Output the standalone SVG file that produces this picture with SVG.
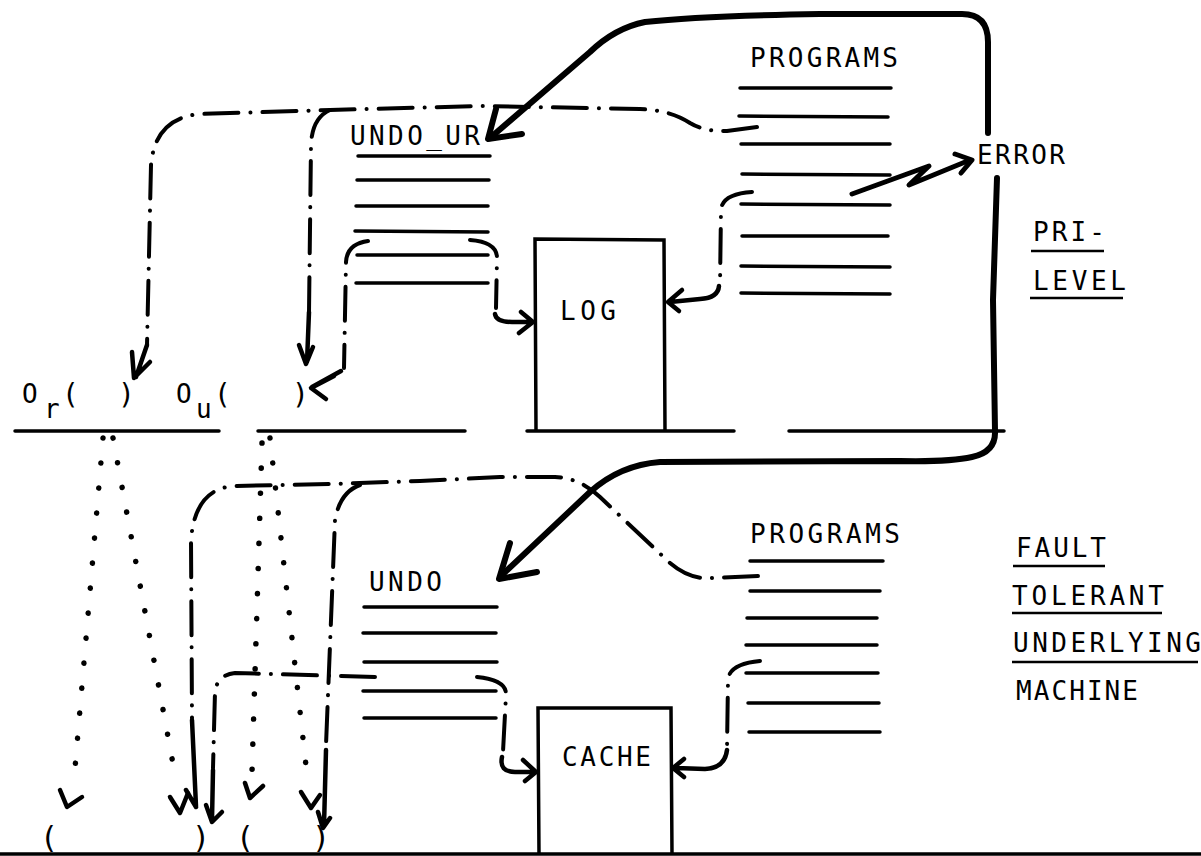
<svg xmlns="http://www.w3.org/2000/svg" width="1201" height="856" viewBox="0 0 1201 856">
<style>
.t{font-family:"DejaVu Sans Mono","Liberation Mono",monospace;font-size:26px;fill:#000}
.ln{stroke:#000;stroke-width:3.5;fill:none;stroke-linecap:round}
.thk{stroke:#000;stroke-width:6;fill:none;stroke-linecap:round;stroke-linejoin:round}
.dd{stroke:#000;stroke-width:4;fill:none;stroke-linecap:round;stroke-dasharray:34 12 0.1 12}
.dt{stroke:#000;stroke-width:5.5;fill:none;stroke-linecap:round;stroke-dasharray:0.1 25}
.hd{stroke:#000;stroke-width:4.5;fill:none;stroke-linecap:round;stroke-linejoin:round}
.box{stroke:#000;stroke-width:3.5;fill:none}
.ul{stroke:#000;stroke-width:2.5}
</style>
<rect width="1201" height="856" fill="#fff"/>

<g id="levels" class="ln">
<line x1="15" y1="431" x2="219" y2="431"/>
<line x1="258" y1="431" x2="465" y2="431"/>
<line x1="527" y1="431" x2="734" y2="431"/>
<line x1="789" y1="431" x2="1004" y2="431"/>
<line x1="0" y1="854" x2="1201" y2="854"/>
</g>

<g id="programs-top">
<text class="t" x="750" y="67" textLength="148" lengthAdjust="spacing">PROGRAMS</text>
<g class="ln">
<line x1="740" y1="88" x2="891" y2="88"/>
<line x1="739" y1="116" x2="888" y2="117"/>
<line x1="741" y1="144" x2="890" y2="144"/>
<line x1="742" y1="174" x2="890" y2="175"/>
<line x1="741" y1="204" x2="890" y2="205"/>
<line x1="742" y1="236" x2="888" y2="236"/>
<line x1="741" y1="266" x2="890" y2="267"/>
<line x1="741" y1="293" x2="890" y2="294"/>
</g>
</g>

<g id="undo-ur">
<text class="t" x="350" y="145" textLength="130" lengthAdjust="spacing">UNDO_UR</text>
<g class="ln">
<line x1="358" y1="156" x2="490" y2="156"/>
<line x1="357" y1="180" x2="489" y2="180"/>
<line x1="356" y1="206" x2="488" y2="206"/>
<line x1="355" y1="231" x2="488" y2="232"/>
<line x1="357" y1="255" x2="488" y2="255"/>
<line x1="356" y1="283" x2="488" y2="283"/>
</g>
</g>

<g id="log">
<polyline class="box" points="536,431 535,239 664,240 665,431"/>
<text class="t" x="560" y="320" textLength="56" lengthAdjust="spacing">LOG</text>
</g>

<g id="error">
<text class="t" x="977" y="164" textLength="88" lengthAdjust="spacing">ERROR</text>
</g>

<g id="pri-level">
<text class="t" x="1033" y="241" textLength="72" lengthAdjust="spacing">PRI-</text>
<line class="ul" x1="1031" y1="251" x2="1104" y2="251"/>
<text class="t" x="1033" y="290" textLength="93" lengthAdjust="spacing">LEVEL</text>
<line class="ul" x1="1030" y1="298" x2="1123" y2="298"/>
</g>

<g id="o-r">
<text class="t" x="22" y="403">O</text>
<text class="t" x="44" y="418">r</text>
<text class="t" x="62" y="404" style="font-size:28px">(</text>
<text class="t" x="118" y="404" style="font-size:28px">)</text>
</g>

<g id="o-u">
<text class="t" x="176" y="403">O</text>
<text class="t" x="196" y="418">u</text>
<text class="t" x="214" y="404" style="font-size:28px">(</text>
<text class="t" x="292" y="404" style="font-size:28px">)</text>
</g>

<g id="undo">
<text class="t" x="369" y="591" textLength="73" lengthAdjust="spacing">UNDO</text>
<g class="ln">
<line x1="364" y1="607" x2="497" y2="607"/>
<line x1="363" y1="633" x2="496" y2="633"/>
<line x1="364" y1="662" x2="497" y2="662"/>
<line x1="363" y1="691" x2="496" y2="691"/>
<line x1="364" y1="718" x2="496" y2="718"/>
</g>
</g>

<g id="programs-bottom">
<text class="t" x="750" y="543" textLength="150" lengthAdjust="spacing">PROGRAMS</text>
<g class="ln">
<line x1="750" y1="561" x2="883" y2="561"/>
<line x1="750" y1="591" x2="880" y2="591"/>
<line x1="747" y1="618" x2="877" y2="618"/>
<line x1="746" y1="645" x2="877" y2="645"/>
<line x1="746" y1="673" x2="878" y2="673"/>
<line x1="748" y1="703" x2="879" y2="703"/>
<line x1="749" y1="732" x2="880" y2="732"/>
</g>
</g>

<g id="cache">
<polyline class="box" points="539,854 538,708 671,708 672,854"/>
<text class="t" x="562" y="766" textLength="89" lengthAdjust="spacing">CACHE</text>
</g>

<g id="ftum">
<text class="t" x="1016" y="557" textLength="90" lengthAdjust="spacing">FAULT</text>
<line class="ul" x1="1013" y1="566" x2="1105" y2="566"/>
<text class="t" x="1012" y="605" textLength="152" lengthAdjust="spacing">TOLERANT</text>
<line class="ul" x1="1012" y1="613" x2="1162" y2="613"/>
<text class="t" x="1013" y="652" textLength="188" lengthAdjust="spacing">UNDERLYING</text>
<line class="ul" x1="1012" y1="662" x2="1198" y2="662"/>
<text class="t" x="1016" y="700" textLength="122" lengthAdjust="spacing">MACHINE</text>
</g>

<g id="slots">
<text class="t" x="40" y="848" style="font-size:30px">(</text>
<text class="t" x="192" y="848" style="font-size:30px">)</text>
<text class="t" x="236" y="848" style="font-size:30px">(</text>
<text class="t" x="312" y="848" style="font-size:30px">)</text>
</g>

<g id="connectors">
<!-- thick error loop -->
<path class="thk" d="M988,133 L988,42 Q988,14 962,14 L820,14 Q700,16 645,22 Q615,28 590,52 L490,138"/>
<polyline class="thk" points="496,109 488,139 522,134"/>
<path class="thk" d="M997,178 L993,300 L995,431 Q996,452 972,457 Q950,462 900,461 L660,462 Q620,465 590,492 L502,575"/>
<polyline class="thk" points="510,543 499,579 537,572"/>
<polyline class="hd" style="stroke-width:5" points="852,194 929,166 909,185 970,160"/>
<polyline class="hd" style="stroke-width:5" points="955,154 972,160 961,173"/>

<!-- top dash-dot -->
<path class="dd" d="M757,127 L727,131 Q705,132 690,123 Q670,110 640,109 L480,106 L330,110 L200,114 Q155,118 151,165 L147,345"/>
<path class="hd" d="M147,345 L136,377 M132,352 L134,378 L150,362"/>
<path class="dd" d="M330,110 Q312,118 311,145 L309,312"/>
<path class="hd" d="M309,312 L307,362 M299,345 L306,364 L313,347"/>
<path class="dd" d="M368,241 Q347,244 346,262 L344,368"/>
<path class="hd" d="M341,371 L312,387 M334,376 L311,388 L326,399"/>
<path class="dd" d="M470,240 Q497,242 497,258 L496,308"/>
<path class="hd" d="M495,314 Q496,322 512,322 L531,322 M521,312 L533,322 L519,333"/>
<path class="dd" d="M752,192 Q722,194 721,210 L720,285"/>
<path class="hd" d="M719,286 Q718,298 700,299 L670,302 M682,290 L668,302 L679,311"/>

<!-- bottom dash-dot -->
<path class="dd" d="M758,576 L712,578 Q690,580 670,563 L600,497 Q580,478 555,477 L500,477 L420,481 L330,484 L235,486 Q195,488 191,540 L192,718"/>
<path class="hd" d="M192,720 L196,806 M186,790 L196,807"/>
<path class="dd" d="M360,485 Q340,492 335,520 L326,745"/>
<path class="hd" d="M326,750 L324,826 M318,812 L323,828 L330,818"/>
<path class="dd" d="M375,677 L235,673 Q217,675 215,692 L213,768"/>
<path class="hd" d="M213,770 L212,820 M206,805 L212,822 L222,812"/>
<path class="dd" d="M477,677 Q507,680 506,695 L503,752"/>
<path class="hd" d="M502,757 Q499,772 515,772 L533,772 M523,760 L536,772 L525,781"/>
<path class="dd" d="M760,661 Q729,664 728,680 L727,748"/>
<path class="hd" d="M727,750 Q725,768 705,769 L676,768 M684,759 L673,768 L684,777"/>

<!-- dotted -->
<path class="dt" d="M103,438 L74,780"/>
<polyline class="hd" points="60,790 67,807 82,797"/>
<path class="dt" d="M113,438 L176,780"/>
<polyline class="hd" points="170,797 180,813 188,793"/>
<path class="dt" d="M262,443 L252,772"/>
<polyline class="hd" points="245,783 250,798 263,786"/>
<path class="dt" d="M270,438 L307,775"/>
<polyline class="hd" points="301,792 311,808 320,795"/>
</g>
</svg>
